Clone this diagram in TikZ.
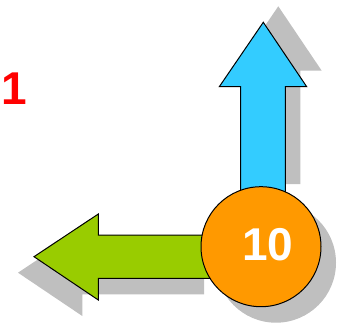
\documentclass[tikz,border=0pt]{standalone}
\usepackage{fontspec}
\usepackage{tikz}
\usetikzlibrary{calc}
\newfontfamily\arialfont{Liberation Sans}
\definecolor{ttccff}{rgb}{0.2,0.8,1.}
\definecolor{zzccqq}{rgb}{0.6,0.8,0.}
\definecolor{ffzzqq}{rgb}{1.,0.6,0.}
\definecolor{ffqqqq}{rgb}{1.,0.,0.}
\definecolor{cgray}{rgb}{0.75,0.75,0.75}
\tikzset{every node/.style={font=\arialfont\bfseries\fontsize{46}{46}\selectfont},
  shadowfill/.style={fill=cgray,draw=none},
  blockedge/.style={draw=black,line width=1pt,line join=miter}}

\begin{document}
\begin{tikzpicture}[line cap=round,line join=round,x=1pt,y=-1pt]
            \useasboundingbox (0,0) rectangle (338,325);
            % shadows
            \fill [shadowfill] (255.7,184) -- (255.7,70.7) -- (234.3,70.7) -- (278.3,6.3) -- (321.7,70.7) -- (300.3,70.7) -- (300.3,184) -- cycle;
            \fill [shadowfill] (204,251) -- (82.3,251) -- (82.3,230) -- (18,272.7) -- (82.3,316) -- (82.3,294.3) -- (204,294.3) -- cycle;
            \fill [shadowfill] (276,262.7) circle (60pt);
            % arrows
            \draw [blockedge,fill=ttccff] (240.7,200) -- (240.7,86.7) -- (219.3,86.7) -- (263.3,22.3) -- (306.7,86.7) -- (285.3,86.7) -- (285.3,200) -- cycle;
            \draw [blockedge,fill=zzccqq] (220,235) -- (98.3,235) -- (98.3,214) -- (34,256.7) -- (98.3,300) -- (98.3,278.3) -- (220,278.3) -- cycle;
            % disc and labels
            \node (ten) [circle,draw=black,line width=1pt,fill=ffzzqq,minimum size=120pt,inner sep=0pt] at (261,246.7) {};
            \node (tenlabel) [anchor=base,text=white,inner sep=0pt] at (267.7,260) {10};
            \node (one) [anchor=base,text=ffqqqq,inner sep=0pt] at (14.5,104) {1};
\end{tikzpicture}
\end{document}
